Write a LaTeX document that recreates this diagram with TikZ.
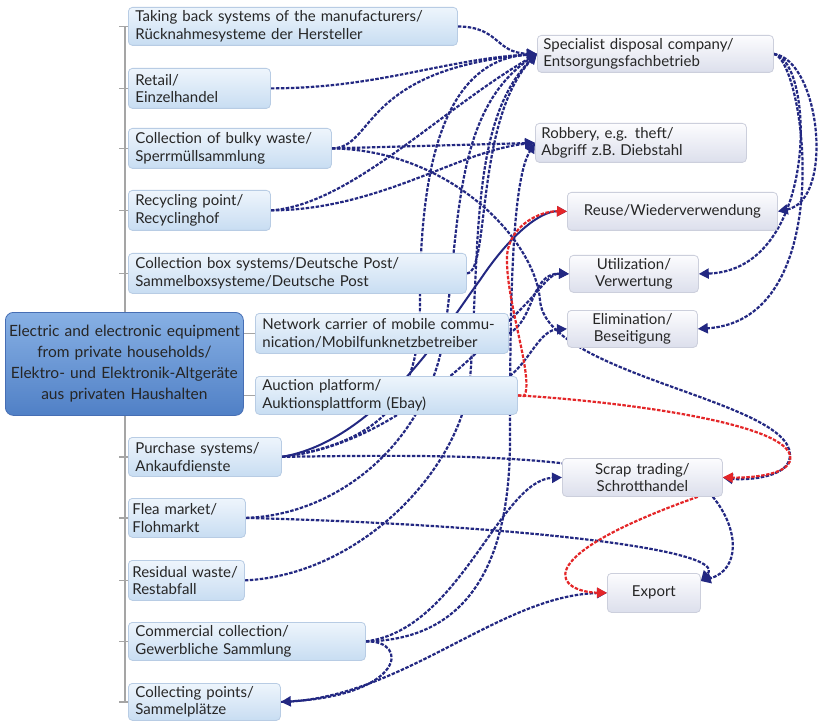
\documentclass[tikz,border=0pt]{standalone}
\usepackage{fontspec}
\setmainfont{Lato}
\usetikzlibrary{arrows.meta,backgrounds}

\definecolor{linkblue}{RGB}{35,40,130}
\definecolor{linkred}{RGB}{228,38,40}
\definecolor{srctop}{RGB}{238,245,252}
\definecolor{srcbot}{RGB}{200,221,242}
\definecolor{srcline}{RGB}{184,204,228}
\definecolor{tgttop}{RGB}{252,252,254}
\definecolor{tgtbot}{RGB}{220,223,236}
\definecolor{tgtline}{RGB}{204,207,220}
\definecolor{maintop}{RGB}{135,176,228}
\definecolor{mainbot}{RGB}{80,128,198}
\definecolor{mainline}{RGB}{70,110,180}
\definecolor{trunkgrey}{RGB}{165,165,165}
\definecolor{txt}{RGB}{38,38,38}

\tikzset{
	srcbox/.style={anchor=north west, rounded corners=4pt, draw=srcline, line width=0.8pt, top color=srctop, bottom color=srcbot, align=left, inner xsep=7pt, inner ysep=0pt, text=txt, font=\fontsize{15}{17.5}\selectfont, text width=#1},
	tgtbox/.style={anchor=north west, rounded corners=4pt, draw=tgtline, line width=0.8pt, top color=tgttop, bottom color=tgtbot, align=center, inner xsep=6pt, inner ysep=0pt, text=txt, font=\fontsize{15}{17.5}\selectfont, text width=#1},
	mainbox/.style={anchor=north west, rounded corners=8pt, draw=mainline, line width=0.8pt, top color=maintop, bottom color=mainbot, align=center, inner xsep=1pt, text=txt, font=\fontsize{15.5}{21}\selectfont, text width=236pt, minimum height=103pt},
	bluelink/.style={draw=linkblue, line width=2.2pt, dash pattern=on 3.5pt off 1.5pt, -{Triangle[length=10pt,width=10pt]}},
	bluesolid/.style={draw=linkblue, line width=2pt, -{Triangle[length=10pt,width=10pt]}},
	redlink/.style={draw=linkred, line width=2.2pt, dash pattern=on 3.5pt off 1.5pt, -{Triangle[length=10pt,width=10pt]}},
	trunkline/.style={draw=trunkgrey, line width=1.2pt}
}

\begin{document}
\begin{tikzpicture}[x=1pt,y=-1pt]
	\useasboundingbox (0,0) rectangle (833,722);

	\node[mainbox] (household) at (5,312) {Electric and electronic equipment\\from private households/\\Elektro- und Elektronik-Altgeräte\\aus privaten Haushalten};

	\node[srcbox=315pt, minimum height=38pt] (taking) at (128,7) {Taking back systems of the manufacturers/\\Rücknahmesysteme der Hersteller};
	\node[srcbox=128pt, minimum height=40pt] (retail) at (128,68) {Retail/\\Einzelhandel};
	\node[srcbox=189pt, minimum height=40pt] (bulky) at (128,128) {Collection of bulky waste/\\Sperrmüllsammlung};
	\node[srcbox=128pt, minimum height=40pt] (recycling) at (128,190) {Recycling point/\\Recyclinghof};
	\node[srcbox=324pt, minimum height=40pt] (postbox) at (128,253) {Collection box systems/Deutsche Post/\\Sammelboxsysteme/Deutsche Post};
	\node[srcbox=239pt, minimum height=40pt] (network) at (255,313) {Network carrier of mobile commu-\\nication/Mobilfunknetzbetreiber};
	\node[srcbox=248pt, minimum height=38pt] (auction) at (255,376) {Auction platform/\\Auktionsplattform (Ebay)};
	\node[srcbox=139pt, minimum height=39pt] (purchase) at (128,437) {Purchase systems/\\Ankaufdienste};
	\node[srcbox=109pt, inner xsep=4pt, minimum height=39pt] (flea) at (128,498) {Flea market/\\Flohmarkt};
	\node[srcbox=108pt, inner xsep=4pt, minimum height=40pt] (residual) at (128,560) {Residual waste/\\Restabfall};
	\node[srcbox=223pt, minimum height=38pt] (commercial) at (128,622) {Commercial collection/\\Gewerbliche Sammlung};
	\node[srcbox=138pt, minimum height=37pt] (collecting) at (128,683) {Collecting points/\\Sammelplätze};

	\node[tgtbox=224pt, minimum height=37pt, align=left] (disposal) at (537,35) {Specialist disposal company/\\Entsorgungsfachbetrieb};
	\node[tgtbox=199pt, minimum height=39pt, align=left] (robbery) at (535,123) {Robbery, e.g. theft/\\Abgriff z.B. Diebstahl};
	\node[tgtbox=198pt, minimum height=38pt] (reuse) at (567,192) {Reuse/Wiederverwendung};
	\node[tgtbox=117pt, minimum height=37pt] (utilization) at (569,255) {Utilization/\\Verwertung};
	\node[tgtbox=118pt, minimum height=37pt] (elimination) at (567,310) {Elimination/\\Beseitigung};
	\node[tgtbox=148pt, minimum height=38pt] (scrap) at (562,458) {Scrap trading/\\Schrotthandel};
	\node[tgtbox=81pt, minimum height=39pt] (export) at (607,573) {Export};

	\begin{scope}[on background layer]
		\fill[white] (0,0) rectangle (833,722);
		\draw[trunkline] ([xshift=-3pt]taking.west) -- ([xshift=-3pt]collecting.west);
		\foreach \n in {taking,retail,bulky,recycling,postbox,purchase,flea,residual,commercial,collecting}
			\draw[trunkline] (\n.west) -- ++(-9,0);
		\draw[trunkline] (household.east |- network.west) -- (network.west);
		\draw[trunkline] (household.east |- auction.west) -- (auction.west);

		\draw[bluelink] (taking.east) .. controls (500,27) and (495,53) .. (disposal.west);
		\draw[bluelink] (retail.east) .. controls (380,88) and (440,60) .. (disposal.west);
		\draw[bluelink] (bulky.east) .. controls (375,148) and (360,70) .. (disposal.west);
		\draw[bluelink] (bulky.east) -- (robbery.west);
		\draw[bluelink] (recycling.east) .. controls (350,205) and (440,110) .. (disposal.west);
		\draw[bluelink] (recycling.east) .. controls (380,210) and (460,150) .. (robbery.west);
		\draw[bluelink] (postbox.east) .. controls (490,273) and (475,120) .. (disposal.west);
		\draw[bluelink] (network.east) .. controls (535,320) and (530,273) .. (utilization.west);
		\draw[bluelink] ([xshift=-8pt]auction.north east) .. controls (530,360) and (540,330) .. (elimination.west);
		\draw[bluelink] (purchase.east) .. controls (400,440) and (420,380) .. (420,300) .. controls (420,150) and (450,60) .. (disposal.west);
		\draw[bluesolid] (purchase.east) .. controls (380,440) and (450,320) .. (480,280) .. controls (510,235) and (540,211) .. (reuse.west);
		\draw[bluelink] (purchase.east) .. controls (390,445) and (470,360) .. (520,310) .. controls (540,290) and (550,273) .. (utilization.west);
		\draw[draw=linkblue, line width=2.2pt, dash pattern=on 3.5pt off 1.5pt] (purchase.east) .. controls (450,454) and (560,456) .. (scrap.center);
		\draw[bluelink] (flea.east) .. controls (340,515) and (430,440) .. (445,330) .. controls (460,220) and (455,110) .. (disposal.west);
		\draw[bluelink] (flea.east) .. controls (520,525) and (730,550) .. ([yshift=-8pt]export.north east);
		\draw[bluelink] (residual.east) .. controls (360,575) and (460,470) .. (470,380) .. controls (480,250) and (470,120) .. (disposal.west);
		\draw[bluelink] (commercial.east) .. controls (460,630) and (500,480) .. (scrap.west);
		\draw[bluelink] (commercial.east) .. controls (470,640) and (510,560) .. (510,440) .. controls (510,300) and (512,180) .. (robbery.west);
		\draw[bluelink] (commercial.east) .. controls (410,640) and (405,695) .. (collecting.east);
		\draw[bluelink] (collecting.east) .. controls (400,700) and (500,595) .. (export.west);
		\draw[bluelink] (bulky.east) .. controls (450,150) and (535,240) .. (540,300) .. controls (545,375) and (790,400) .. (790,455) .. controls (790,480) and (740,480) .. (scrap.east);
		\draw[bluelink] (disposal.east) .. controls (820,60) and (835,200) .. (reuse.east);
		\draw[bluelink] (disposal.east) .. controls (815,60) and (820,270) .. (utilization.east);
		\draw[bluelink] (disposal.east) .. controls (805,60) and (840,320) .. (elimination.east);
		\draw[bluelink] ([xshift=-10pt]scrap.south east) .. controls (740,530) and (740,570) .. ([yshift=-8pt]export.north east);

		\draw[redlink] (auction.east) -- (524,396) .. controls (535,380) and (505,300) .. (507,255) .. controls (510,225) and (540,211) .. (reuse.west);
		\draw[redlink] (auction.east) .. controls (600,400) and (780,420) .. (790,455) .. controls (795,475) and (750,478) .. (scrap.east);
		\draw[redlink] ([xshift=-25pt]scrap.south east) .. controls (520,560) and (560,592) .. (export.west);
	\end{scope}
\end{tikzpicture}
\end{document}
